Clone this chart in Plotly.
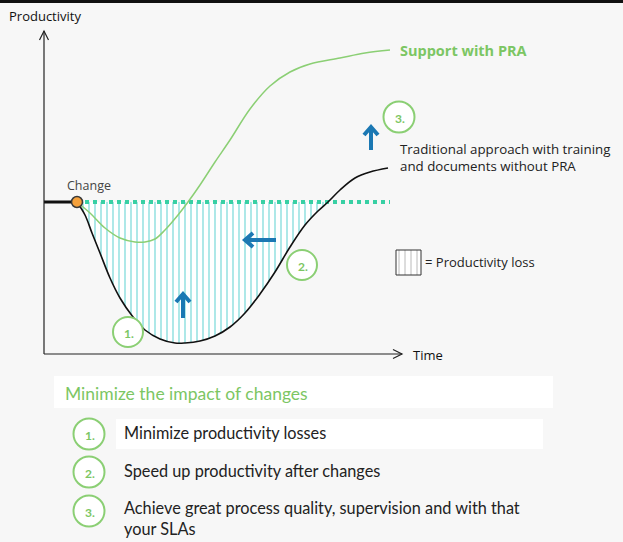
import plotly.graph_objects as go

W, H = 623, 542

# ---- data (time, productivity) ----
baseline_level = 152
change_time = 33
pre_time = [0, 33]
pre_prod = [152, 152]

trad_time = [33, 41, 48, 56, 66, 76, 89, 101, 116, 131, 141, 156, 171, 186, 201, 216, 231, 246, 261, 274, 284, 296, 311, 326, 344]
trad_prod = [152, 139, 121, 101, 76, 56, 37, 24, 15, 11, 11, 13, 18, 27, 41, 60, 82, 107, 129, 143, 152, 164, 176, 182, 186]

pra_time = [33, 46, 61, 76, 91, 101, 111, 121, 134, 144, 156, 171, 186, 206, 226, 246, 266, 296, 321, 346]
pra_prod = [152, 141, 126, 116, 112, 112, 115, 124, 139, 152, 169, 192, 214, 245, 268, 282, 290, 296, 301, 304]

loss_end_index = 20  # trad curve returns to baseline here
dotted_time = [33, 346]

list_numbers = ["1.", "2.", "3."]
list_texts = ["Minimize productivity losses",
              "Speed up productivity after changes",
              "Achieve great process quality, supervision and with that<br>your SLAs"]

GREEN = "#8bcf74"
GREEN_TXT = "#7cc663"
TEAL = "#2ec4c4"
DOT = "#38d0a4"
BLUE = "#1b78b3"
FONT = "Lato"

fig = go.Figure()

# productivity loss fill
fig.add_trace(go.Scatter(
    x=trad_time[:loss_end_index + 1], y=trad_prod[:loss_end_index + 1],
    mode="lines", line=dict(width=0, shape="spline"), fill="toself",
    fillcolor="white",
    fillpattern=dict(shape="|", fgcolor=TEAL, fgopacity=0.6, bgcolor="rgba(255,255,255,0.95)",
                     size=6, solidity=0.22),
    hoverinfo="skip", xaxis="x", yaxis="y"))

# dotted baseline
fig.add_trace(go.Scatter(x=dotted_time, y=[baseline_level] * 2, mode="lines",
                         line=dict(color=DOT, width=4, dash="dot"), hoverinfo="skip"))
# PRA curve
fig.add_trace(go.Scatter(x=pra_time, y=pra_prod, mode="lines",
                         line=dict(color=GREEN, width=1.5, shape="spline"), hoverinfo="skip"))
# traditional curve
fig.add_trace(go.Scatter(x=trad_time, y=trad_prod, mode="lines",
                         line=dict(color="#111111", width=1.6, shape="spline"), hoverinfo="skip"))
# pre-change
fig.add_trace(go.Scatter(x=pre_time, y=pre_prod, mode="lines",
                         line=dict(color="#111111", width=3.2), hoverinfo="skip"))
# change marker
fig.add_trace(go.Scatter(x=[change_time], y=[baseline_level], mode="markers",
                         marker=dict(size=11, color="#f5a13c", line=dict(color="#3a3a3a", width=1.5)),
                         hoverinfo="skip"))

# legend swatch (pixel axes)
fig.add_trace(go.Scatter(x=[396, 421, 421, 396, 396], y=[250, 250, 275, 275, 250], mode="lines",
                         line=dict(color="#333333", width=1), fill="toself", fillcolor="white",
                         fillpattern=dict(shape="|", fgcolor="#666666", bgcolor="white", size=6, solidity=0.15),
                         xaxis="x2", yaxis="y2", hoverinfo="skip"))

shapes = []
annotations = []

def px_line(path, color, width):
    shapes.append(dict(type="path", path=path, xref="x2", yref="y2",
                       line=dict(color=color, width=width)))

# top black bar
shapes.append(dict(type="rect", x0=0, x1=W, y0=0, y1=3, xref="x2", yref="y2",
                   fillcolor="#111111", line=dict(width=0), layer="above"))

# axes with arrows
px_line("M44,354 L44,31", "#222222", 1.2)
px_line("M39.5,40 L44,31 L48.5,40", "#222222", 1.2)
px_line("M44,354 L402,354", "#222222", 1.2)
px_line("M393,349.5 L402,354 L393,358.5", "#222222", 1.2)

# blue arrows
px_line("M183,318 L183,296", BLUE, 4)
px_line("M176,302 L183,294 L190,302", BLUE, 4)
px_line("M276,240 L247,240", BLUE, 4)
px_line("M253,233 L245,240 L253,247", BLUE, 4)
px_line("M371,150 L371,129", BLUE, 4)
px_line("M364,135 L371,127 L378,135", BLUE, 4)

# panels at bottom
shapes.append(dict(type="rect", x0=54, x1=553, y0=376, y1=408, xref="x2", yref="y2",
                   fillcolor="rgba(255,255,255,0.9)", line=dict(width=0), layer="below"))
shapes.append(dict(type="rect", x0=116, x1=543, y0=419, y1=449, xref="x2", yref="y2",
                   fillcolor="rgba(255,255,255,0.9)", line=dict(width=0), layer="below"))

def circle_num(cx, cy, r, label, size):
    shapes.append(dict(type="circle", x0=cx - r, x1=cx + r, y0=cy - r, y1=cy + r,
                       xref="x2", yref="y2", fillcolor="white", line=dict(color=GREEN, width=2)))
    annotations.append(dict(x=cx + 1, y=cy + 1, xref="x2", yref="y2", text="<b>%s</b>" % label,
                            showarrow=False, font=dict(family=FONT, size=size, color=GREEN_TXT)))

circle_num(128, 332, 15, "1.", 12)
circle_num(302, 265, 15, "2.", 12)
circle_num(399, 117, 15.5, "3.", 12)

for i, (n, t) in enumerate(zip(list_numbers, list_texts)):
    cy = [434, 472, 511][i]
    circle_num(89, cy, 15.5, n, 12)
    annotations.append(dict(x=122, y=[432, 470, 518][i], xref="x2", yref="y2", text=t,
                            showarrow=False, xanchor="left", yanchor="middle", align="left",
                            font=dict(family=FONT, size=16.3, color="#222222")))

def label(x, y, text, size=13, color="#222222", bold=False, family="Open Sans"):
    annotations.append(dict(x=x, y=y, xref="x2", yref="y2", text=("<b>%s</b>" % text) if bold else text,
                            showarrow=False, xanchor="left", yanchor="middle", align="left",
                            font=dict(family=family, size=size, color=color)))

label(7, 16, "Productivity", 13, "#111111")
label(411, 355, "Time", 13, "#111111")
label(65, 185, "Change", 12.5, "#444444")
label(398, 50, "Support with PRA", 14.5, GREEN_TXT, bold=True)
label(398, 157, "Traditional approach with training<br>and documents without PRA", 13.3, "#222222")
label(423, 262, "= Productivity loss", 13, "#222222")
label(63, 393, "Minimize the impact of changes", 17.5, GREEN_TXT, family=FONT)

ax_hidden = dict(showgrid=False, zeroline=False, showticklabels=False, ticks="", showline=False)

fig.update_layout(
    width=W, height=H, margin=dict(l=0, r=0, t=0, b=0, pad=0), autosize=False,
    paper_bgcolor="#f7f7f7", plot_bgcolor="rgba(0,0,0,0)", showlegend=False,
    xaxis=dict(domain=[44 / W, 404 / W], range=[0, 360], anchor="y", **ax_hidden),
    yaxis=dict(domain=[(H - 354) / H, (H - 30) / H], range=[0, 324], anchor="x", **ax_hidden),
    xaxis2=dict(domain=[0, 1], range=[0, W], anchor="y2", **ax_hidden),
    yaxis2=dict(domain=[0, 1], range=[H, 0], anchor="x2", **ax_hidden),
    shapes=shapes, annotations=annotations,
)

fig.write_html("out.html", config={"displayModeBar": False},
               post_script="document.body.style.margin='0';")
